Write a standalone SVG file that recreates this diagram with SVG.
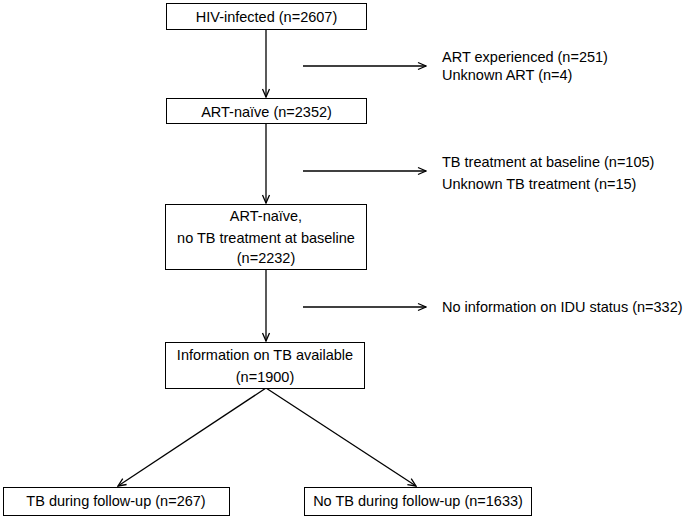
<svg xmlns="http://www.w3.org/2000/svg" width="686" height="518" viewBox="0 0 686 518">
<style>
.box{fill:#fff;stroke:#000;stroke-width:1}
.t{font-family:"Liberation Sans",Arial,sans-serif;font-size:14.5px;fill:#000}
.c{text-anchor:middle}
.ln{stroke:#000;stroke-width:1.3;fill:none;marker-end:url(#ah)}
</style>
<defs>
<marker id="ah" viewBox="0 0 10 10" refX="9" refY="5" markerWidth="10" markerHeight="10" markerUnits="userSpaceOnUse" orient="auto">
<polyline points="1,1.5 9,5 1,8.5" fill="none" stroke="#000" stroke-width="1.3"/>
</marker>
</defs>
<rect width="686" height="518" fill="#fff"/>
<g id="connectors">
<line class="ln" x1="266" y1="30" x2="266" y2="97"/>
<line class="ln" x1="266" y1="124" x2="266" y2="203"/>
<line class="ln" x1="266" y1="270" x2="266" y2="341"/>
<line class="ln" x1="303" y1="66" x2="426" y2="66"/>
<line class="ln" x1="303" y1="171" x2="426" y2="171"/>
<line class="ln" x1="303" y1="307" x2="426" y2="307"/>
<line class="ln" x1="266" y1="388" x2="118" y2="486"/>
<line class="ln" x1="266" y1="388" x2="416" y2="486"/>
</g>
<g id="n1">
<rect class="box" x="166.5" y="3.5" width="200" height="26"/>
<text class="t c" x="266.5" y="22">HIV-infected (n=2607)</text>
</g>
<g id="n1-excl">
<text class="t" x="442" y="62">ART experienced (n=251)</text>
<text class="t" x="442" y="80">Unknown ART (n=4)</text>
</g>
<g id="n2">
<rect class="box" x="166.5" y="98.5" width="200" height="25"/>
<text class="t c" x="266.5" y="117">ART-naïve (n=2352)</text>
</g>
<g id="n2-excl">
<text class="t" x="442" y="167">TB treatment at baseline (n=105)</text>
<text class="t" x="442" y="189">Unknown TB treatment (n=15)</text>
</g>
<g id="n3">
<rect class="box" x="165.5" y="204.5" width="201" height="65"/>
<text class="t c" x="266" y="221">ART-naïve,</text>
<text class="t c" x="266" y="243">no TB treatment at baseline</text>
<text class="t c" x="266" y="263">(n=2232)</text>
</g>
<g id="n3-excl">
<text class="t" x="442" y="312">No information on IDU status (n=332)</text>
</g>
<g id="n4">
<rect class="box" x="165.5" y="342.5" width="199" height="46"/>
<text class="t c" x="265" y="360">Information on TB available</text>
<text class="t c" x="265" y="382">(n=1900)</text>
</g>
<g id="n5">
<rect class="box" x="3.5" y="487.5" width="226" height="28"/>
<text class="t c" x="116" y="506">TB during follow-up (n=267)</text>
</g>
<g id="n6">
<rect class="box" x="304.5" y="487.5" width="227" height="28"/>
<text class="t c" x="418" y="506">No TB during follow-up (n=1633)</text>
</g>
</svg>
